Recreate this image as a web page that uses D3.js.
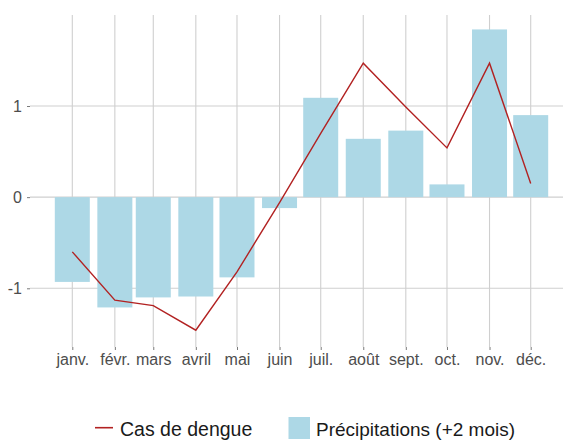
<!DOCTYPE html>
<html><head><meta charset="utf-8">
<script src="https://cdn.jsdelivr.net/npm/d3@7"></script>
<style>body{margin:0;background:#fff}svg{display:block;font-family:"Liberation Sans",Arial,Helvetica,sans-serif}</style>
</head><body><svg id="c" width="563" height="440"></svg>
<script>
const months = ["janv.","févr.","mars","avril","mai","juin","juil.","août","sept.","oct.","nov.","déc."];
const monthIndex = [0,1,2,3,4,5,6,7,8,9,10,11];
const rain = [-0.93,-1.21,-1.10,-1.09,-0.88,-0.12,1.09,0.64,0.73,0.14,1.84,0.90];
const dengue = [-0.60,-1.13,-1.19,-1.46,-0.82,-0.06,0.70,1.47,0.99,0.54,1.47,0.15];
const yTicks = [-1,0,1];
const legendLabels = ["Cas de dengue","Précipitations (+2 mois)"];

const svg = d3.select("#c");
const W = 563, H = 440;
const panel = {left:30, right:563, top:15, bottom:347};
const dates = monthIndex.map(m => new Date(2023, m, 1));
const x = d3.scaleTime().domain([dates[0], dates[11]]).range([72.3, 530.7]);
const y = d3.scaleLinear().domain([-1, 1]).range([288.3, 106]);
const grid = "#cfcfcf", txt = "#4d4d4d";
const barW = 35;

// grid
svg.append("g").selectAll("line").data(yTicks).join("line")
  .attr("x1", panel.left).attr("x2", panel.right)
  .attr("y1", d => y(d)).attr("y2", d => y(d))
  .attr("stroke", grid).attr("stroke-width", 1.1);
svg.append("g").selectAll("line").data(dates).join("line")
  .attr("x1", d => x(d)).attr("x2", d => x(d))
  .attr("y1", panel.top).attr("y2", panel.bottom)
  .attr("stroke", grid).attr("stroke-width", 1.1);

// bars
svg.append("g").selectAll("rect").data(rain).join("rect")
  .attr("x", (d,i) => x(dates[i]) - barW/2)
  .attr("width", barW)
  .attr("y", d => Math.min(y(d), y(0)))
  .attr("height", d => Math.abs(y(d) - y(0)))
  .attr("fill", "#add8e6");

// line
svg.append("path").datum(dengue)
  .attr("d", d3.line().x((d,i) => x(dates[i])).y(d => y(d)))
  .attr("fill", "none").attr("stroke", "#b22222").attr("stroke-width", 1.4);

// x axis
const xa = svg.append("g").attr("transform", `translate(0,${panel.bottom})`)
  .call(d3.axisBottom(x).tickValues(dates).tickFormat((d,i) => months[i]).tickSize(3).tickPadding(4));
xa.select(".domain").remove();
xa.selectAll("line").attr("stroke", "#7a7a7a");
xa.selectAll("text").attr("fill", txt).attr("font-size", 16).attr("font-family", "Liberation Sans, Arial, sans-serif");

// y axis
const ya = svg.append("g").attr("transform", `translate(${panel.left},0)`)
  .call(d3.axisLeft(y).tickValues(yTicks).tickFormat(d3.format("d")).tickSize(3).tickPadding(5));
ya.select(".domain").remove();
ya.selectAll("line").attr("stroke", "#7a7a7a");
ya.selectAll("text").attr("fill", txt).attr("font-size", 16).attr("font-family", "Liberation Sans, Arial, sans-serif")
  .text(d => d < 0 ? "-" + Math.abs(d) : d);

// legend
const lg = svg.append("g");
lg.append("line").attr("x1", 95).attr("x2", 113).attr("y1", 427.7).attr("y2", 427.7)
  .attr("stroke", "#b22222").attr("stroke-width", 1.6);
lg.append("text").attr("x", 120).attr("y", 436).text(legendLabels[0])
  .attr("font-size", 19.5).attr("fill", "#1a1a1a");
lg.append("rect").attr("x", 288.5).attr("y", 417).attr("width", 21.5).attr("height", 22).attr("fill", "#add8e6");
lg.append("text").attr("x", 316).attr("y", 436).text(legendLabels[1])
  .attr("font-size", 19).attr("fill", "#1a1a1a");
</script></body></html>
